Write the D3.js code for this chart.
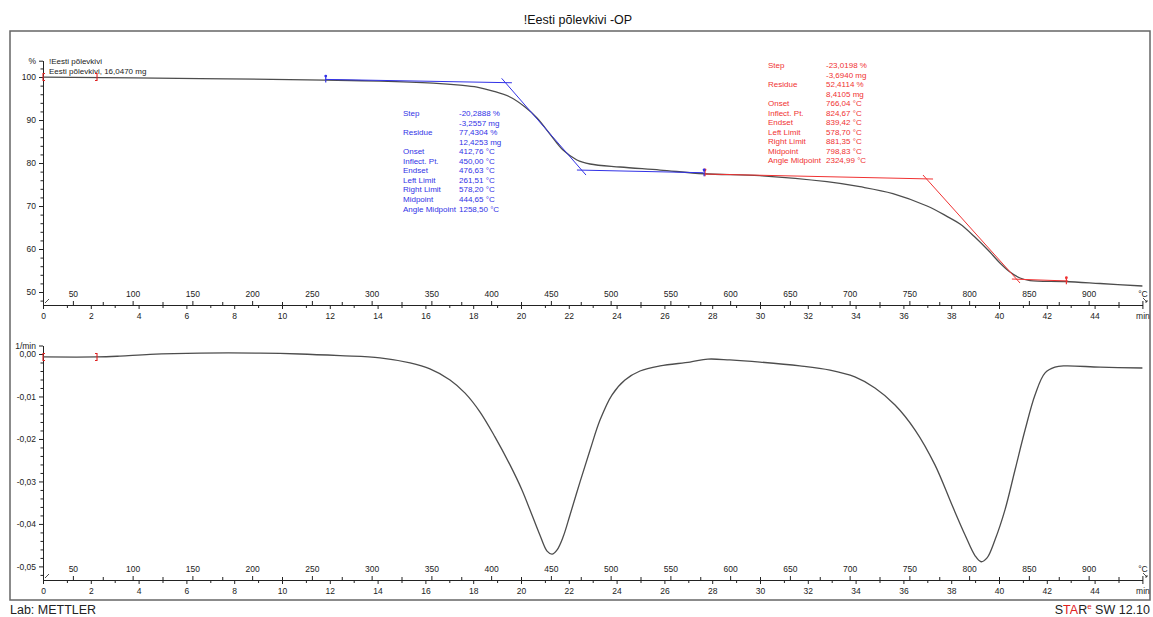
<!DOCTYPE html>
<html>
<head>
<meta charset="utf-8">
<script src="https://cdn.jsdelivr.net/npm/d3@7"></script>
<style>
body { margin: 0; background: #fff; }
text { font-family: "Liberation Sans", Arial, sans-serif; }
</style>
</head>
<body>
<svg id="chart" width="1153" height="617"></svg>
<script>
// ---- data ----
// TGA curve: time (min) vs mass (%)
var tgaTime = [0, 6.57, 11.8, 14.1, 16.32, 17.45, 18.16, 18.83, 19.54, 20.17, 20.67, 21.21, 21.76, 22.34, 22.89, 24.14, 25.82, 27.66,
               30.0, 32.8, 34.18, 35.56, 36.99, 37.82, 38.37, 38.99, 39.62, 40.04, 40.46, 40.88, 41.3, 42.76, 44.23, 46.0];
var tgaPct = [100, 99.65, 99.3, 99.07, 98.6, 98.14, 97.67, 96.74, 95.35, 93.02, 90.47, 86.74, 83.02, 80.7, 79.77, 79.07, 78.37, 77.5,
              77.05, 75.65, 74.49, 72.9, 70.0, 67.6, 65.81, 62.79, 59.3, 56.74, 54.65, 53.26, 52.67, 52.44, 51.98, 51.4];

// DTG curve: time (min) vs rate (1/min)
var dtgTime = [0, 2.26, 3.22, 4.48, 6.57, 9.08, 10.75, 12.43, 14.1, 15.36, 16.19, 17.03, 17.66, 18.28, 18.91, 19.54, 20.04, 20.46,
               20.79, 21.09, 21.3, 21.51, 21.76, 22.05, 22.47, 22.89, 23.31, 23.81, 24.35, 24.98, 25.82, 27.07, 27.82, 28.74,
               30.0, 31.67, 32.93, 33.97, 34.81, 35.65, 36.49, 37.32, 38.03, 38.58, 39.0, 39.25, 39.5, 39.83, 40.25, 40.67,
               41.09, 41.51, 41.92, 42.34, 42.76, 44.23, 46.0];
var dtgRate = [-0.0007, -0.0007, -0.0005, -0.0001, 0.0002, 0.0002, 0, -0.0004, -0.0009, -0.0021, -0.0035, -0.0061, -0.0092, -0.0136,
               -0.0195, -0.0261, -0.032, -0.0379, -0.0426, -0.0464, -0.0471, -0.0461, -0.0431, -0.0379, -0.0301, -0.0226, -0.0155,
               -0.0096, -0.0061, -0.004, -0.0028, -0.0019, -0.0012, -0.0014, -0.0019, -0.0028, -0.0038, -0.0054, -0.008, -0.012,
               -0.0179, -0.0261, -0.0355, -0.0426, -0.0475, -0.0489, -0.048, -0.0438, -0.0367, -0.0273, -0.0179, -0.0096, -0.0045,
               -0.0031, -0.0028, -0.0031, -0.0033];

// tangent construction lines [t1, v1, t2, v2]
var blueTangents = [[11.8, 99.45, 19.62, 98.67], [19.19, 99.7, 22.72, 77.2], [22.34, 78.37, 27.62, 77.74]];
var redTangents = [[27.66, 77.44, 37.24, 76.28], [36.82, 77.21, 40.88, 52.09], [40.54, 53.02, 42.89, 52.56]];

// limit markers [t, value]
var blueLimits = [[11.83, 99.4], [27.66, 77.6]];
var redLimits = [[27.7, 77.6], [42.82, 52.5]];
var bracketsTop = [[0, 100, "["], [2.26, 100, "]"]];
var bracketsBottom = [[0, -0.0007, "["], [2.26, -0.0007, "]"]];

var stepLabels = ["Step", "", "Residue", "", "Onset", "Inflect. Pt.", "Endset", "Left Limit", "Right Limit", "Midpoint", "Angle Midpoint"];
var blueValues = ["-20,2888 %", "-3,2557 mg", "77,4304 %", "12,4253 mg", "412,76 °C", "450,00 °C", "476,63 °C", "261,51 °C", "578,20 °C", "444,65 °C", "1258,50 °C"];
var redValues = ["-23,0198 %", "-3,6940 mg", "52,4114 %", "8,4105 mg", "766,04 °C", "824,67 °C", "839,42 °C", "578,70 °C", "881,35 °C", "798,83 °C", "2324,99 °C"];

var pctTicks = [50, 60, 70, 80, 90, 100];
var rateTicks = [-0.05, -0.04, -0.03, -0.02, -0.01, 0];
var timeTicks = d3.range(0, 46, 2);
var tempTicks = d3.range(50, 901, 50);

// ---- setup ----
var svg = d3.select("#chart");
var ink = "#222";
var blue = "#3232e6";
var red = "#f03232";
var curveCol = "#4d4d4d";

var x = d3.scaleLinear().domain([0, 46]).range([43, 1142.4]);
var temp = d3.scaleLinear().domain([25, 25 + 20 * 46]).range([43, 1142.4]);
var yTop = d3.scaleLinear().domain([47, 103.8]).range([304.9, 60.7]);
var yBot = d3.scaleLinear().domain([-0.0532, 0.002]).range([580, 345.5]);

var comma = d3.formatLocale({decimal: ",", thousands: ".", grouping: [3], currency: ["", ""], minus: "-"}).format(".2f");

// frame, title, footer
svg.append("rect").attr("x", 10).attr("y", 31).attr("width", 1140).attr("height", 569)
   .attr("fill", "none").attr("stroke", "#666").attr("stroke-width", 1.5);

svg.append("text").attr("x", 578).attr("y", 24).attr("text-anchor", "middle")
   .attr("font-size", 12.5).attr("fill", "#111").text("!Eesti põlevkivi -OP");

svg.append("text").attr("x", 10).attr("y", 614).attr("font-size", 12.5).attr("fill", ink).text("Lab: METTLER");

var star = svg.append("text").attr("x", 1150).attr("y", 614).attr("text-anchor", "end")
   .attr("font-size", 12.5).attr("fill", ink);
star.append("tspan").text("S");
star.append("tspan").attr("fill", "#e02020").text("TA");
star.append("tspan").text("R");
star.append("tspan").attr("fill", "#e02020").attr("font-size", 8).attr("dy", -5).text("e");
star.append("tspan").attr("dy", 5).text(" SW 12.10");

function styleAxis(g) {
   g.selectAll("path").attr("stroke", ink);
   g.selectAll("line").attr("stroke", ink);
   g.selectAll("text").attr("fill", ink).attr("font-size", 8.5).attr("font-family", "Liberation Sans, Arial, sans-serif");
}

function drawXAxes(yPos) {
   // minor time ticks
   svg.append("g").attr("transform", "translate(0," + yPos + ")")
      .call(d3.axisBottom(x).tickValues(d3.range(1, 46, 2)).tickSize(3).tickSizeOuter(0).tickFormat(""))
      .call(styleAxis);
   svg.append("g").attr("transform", "translate(0," + yPos + ")")
      .call(d3.axisBottom(x).tickValues(timeTicks.concat([46])).tickSize(4).tickPadding(4).tickSizeOuter(0)
         .tickFormat(function(d) { return d === 46 ? "min" : d; }))
      .call(styleAxis);
   // temperature axis on the same line
   svg.append("g").attr("transform", "translate(0," + yPos + ")")
      .call(d3.axisTop(temp).tickValues(d3.range(75, 926, 50)).tickSize(3).tickSizeOuter(0).tickFormat(""))
      .call(styleAxis);
   svg.append("g").attr("transform", "translate(0," + yPos + ")")
      .call(d3.axisTop(temp).tickValues(tempTicks.concat([945])).tickSize(4).tickPadding(4).tickSizeOuter(0)
         .tickFormat(function(d) { return d === 945 ? "°C" : d; }))
      .call(styleAxis);
   // little arrow marks at the axis ends
   svg.append("path").attr("d", "M45," + (yPos - 2) + " l4,-4")
      .attr("stroke", ink).attr("stroke-width", 0.8).attr("fill", "none");
   svg.append("path").attr("d", "M1143," + (yPos - 7) + " l4,4 m0,0 l-2,0 m2,0 l0,-2")
      .attr("stroke", ink).attr("stroke-width", 0.8).attr("fill", "none");
}

// ---- top panel ----
svg.append("g").attr("transform", "translate(43,0)")
   .call(d3.axisLeft(yTop).tickValues(d3.range(48, 104, 2).filter(function(d) { return d % 10 !== 0; }))
      .tickSize(2.5).tickSizeOuter(0).tickFormat(""))
   .call(styleAxis);
svg.append("g").attr("transform", "translate(43,0)")
   .call(d3.axisLeft(yTop).tickValues(pctTicks.concat([103.8])).tickSize(4).tickPadding(3).tickSizeOuter(0)
      .tickFormat(function(d) { return d > 103 ? "%" : d; }))
   .call(styleAxis);
drawXAxes(305);

svg.append("text").attr("x", 49).attr("y", 64).attr("font-size", 8).attr("fill", ink).text("!Eesti põlevkivi");
svg.append("text").attr("x", 49).attr("y", 74).attr("font-size", 8).attr("fill", ink).text("Eesti põlevkivi, 16,0470 mg");

var tgaLine = d3.line().x(function(d) { return x(d[0]); }).y(function(d) { return yTop(d[1]); }).curve(d3.curveCatmullRom.alpha(0.5));
svg.append("path").datum(tgaTime.map(function(t, i) { return [t, tgaPct[i]]; }))
   .attr("d", tgaLine).attr("fill", "none").attr("stroke", curveCol).attr("stroke-width", 1.3);

function drawTangents(list, col) {
   svg.selectAll(null).data(list).enter().append("line")
      .attr("x1", function(d) { return x(d[0]); }).attr("y1", function(d) { return yTop(d[1]); })
      .attr("x2", function(d) { return x(d[2]); }).attr("y2", function(d) { return yTop(d[3]); })
      .attr("stroke", col).attr("stroke-width", 1);
}
drawTangents(blueTangents, blue);
drawTangents(redTangents, red);

function drawLimits(list, col) {
   var g = svg.selectAll(null).data(list).enter().append("g")
      .attr("transform", function(d) { return "translate(" + x(d[0]) + "," + yTop(d[1]) + ")"; });
   g.append("line").attr("y1", -4).attr("y2", 3).attr("stroke", col).attr("stroke-width", 1.2);
   g.append("circle").attr("cy", -3.5).attr("r", 1.4).attr("fill", col);
}
drawLimits(redLimits, red);
drawLimits(blueLimits, blue);

function drawBrackets(list, y) {
   svg.selectAll(null).data(list).enter().append("path")
      .attr("d", function(d) {
         var px = x(d[0]), py = y(d[1]), s = d[2] === "[" ? 2 : -2;
         return "M" + (px + s) + "," + (py - 3.5) + " h" + (-s) + " v7 h" + s;
      })
      .attr("fill", "none").attr("stroke", "#e02020").attr("stroke-width", 1.1);
}
drawBrackets(bracketsTop, yTop);

function drawTable(x0, x1, y0, dy, values, col) {
   var g = svg.append("g").attr("fill", col).attr("font-size", 8);
   g.selectAll(null).data(stepLabels).enter().append("text")
      .attr("x", x0).attr("y", function(d, i) { return y0 + i * dy; }).text(function(d) { return d; });
   g.selectAll(null).data(values).enter().append("text")
      .attr("x", x1).attr("y", function(d, i) { return y0 + i * dy; }).text(function(d) { return d; });
}
drawTable(403, 459, 116, 9.55, blueValues, blue);
drawTable(768, 826, 68, 9.5, redValues, red);

// ---- bottom panel ----
svg.append("g").attr("transform", "translate(43,0)")
   .call(d3.axisLeft(yBot).tickValues(d3.range(-0.052, 0.001, 0.002).filter(function(d) { return Math.abs(Math.round(d * 500) % 5) !== 0; }))
      .tickSize(2.5).tickSizeOuter(0).tickFormat(""))
   .call(styleAxis);
svg.append("g").attr("transform", "translate(43,0)")
   .call(d3.axisLeft(yBot).tickValues(rateTicks.concat([0.002])).tickSize(4).tickPadding(3).tickSizeOuter(0)
      .tickFormat(function(d) { return d > 0.001 ? "1/min" : comma(d); }))
   .call(styleAxis);
drawXAxes(580);

var dtgLine = d3.line().x(function(d) { return x(d[0]); }).y(function(d) { return yBot(d[1]); }).curve(d3.curveCatmullRom.alpha(0.5));
svg.append("path").datum(dtgTime.map(function(t, i) { return [t, dtgRate[i]]; }))
   .attr("d", dtgLine).attr("fill", "none").attr("stroke", curveCol).attr("stroke-width", 1.3);
drawBrackets(bracketsBottom, yBot);
</script>
</body>
</html>
